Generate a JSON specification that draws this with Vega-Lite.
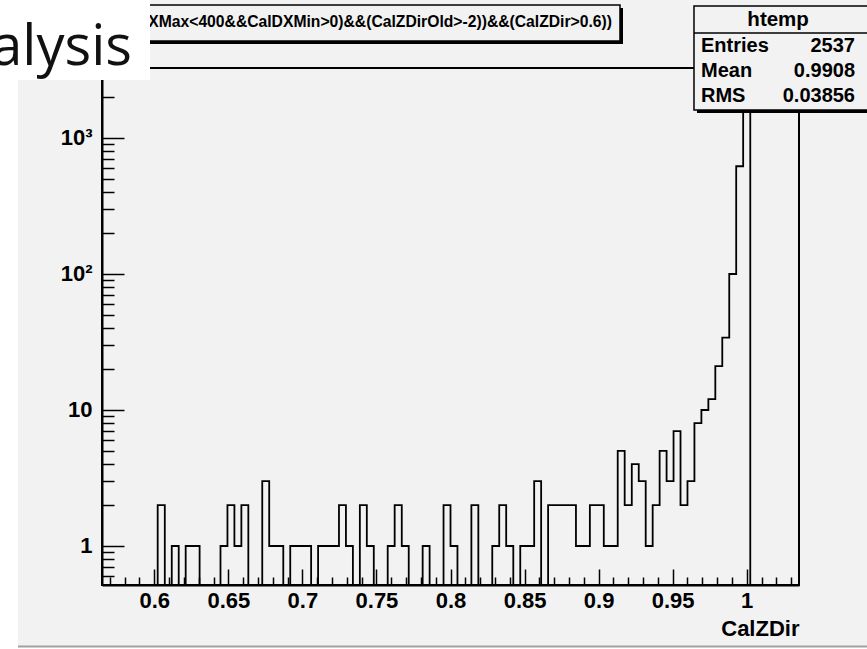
{
  "$schema": "https://vega.github.io/schema/vega-lite/v6.json",
  "width": 697,
  "height": 517,
  "autosize": "none",
  "padding": {"left": 102, "top": 68, "right": 68, "bottom": 64},
  "background": "#f2f2f2",
  "config": {
    "font": "Liberation Sans",
    "view": {"fill": "#f2f2f2", "stroke": "#000000", "strokeWidth": 2}
  },
  "layer": [
    {
      "data": {
        "values": [
          {"CalZDir": 0.5647, "n": 0}, {"CalZDir": 0.5694, "n": 0}, {"CalZDir": 0.5741, "n": 0},
          {"CalZDir": 0.5788, "n": 0}, {"CalZDir": 0.5835, "n": 0}, {"CalZDir": 0.5882, "n": 0},
          {"CalZDir": 0.5929, "n": 0}, {"CalZDir": 0.5976, "n": 0}, {"CalZDir": 0.6023, "n": 2},
          {"CalZDir": 0.6071, "n": 0}, {"CalZDir": 0.6118, "n": 1}, {"CalZDir": 0.6165, "n": 0},
          {"CalZDir": 0.6212, "n": 1}, {"CalZDir": 0.6259, "n": 1}, {"CalZDir": 0.6306, "n": 0},
          {"CalZDir": 0.6353, "n": 0}, {"CalZDir": 0.64, "n": 0}, {"CalZDir": 0.6447, "n": 1},
          {"CalZDir": 0.6494, "n": 2}, {"CalZDir": 0.6541, "n": 1}, {"CalZDir": 0.6588, "n": 2},
          {"CalZDir": 0.6635, "n": 0}, {"CalZDir": 0.6682, "n": 0}, {"CalZDir": 0.6729, "n": 3},
          {"CalZDir": 0.6776, "n": 1}, {"CalZDir": 0.6823, "n": 1}, {"CalZDir": 0.6871, "n": 0},
          {"CalZDir": 0.6918, "n": 1}, {"CalZDir": 0.6965, "n": 1}, {"CalZDir": 0.7012, "n": 1},
          {"CalZDir": 0.7059, "n": 0}, {"CalZDir": 0.7106, "n": 1}, {"CalZDir": 0.7153, "n": 1},
          {"CalZDir": 0.72, "n": 1}, {"CalZDir": 0.7247, "n": 2}, {"CalZDir": 0.7294, "n": 1},
          {"CalZDir": 0.7341, "n": 0}, {"CalZDir": 0.7388, "n": 2}, {"CalZDir": 0.7435, "n": 1},
          {"CalZDir": 0.7482, "n": 0}, {"CalZDir": 0.7529, "n": 0}, {"CalZDir": 0.7576, "n": 1},
          {"CalZDir": 0.7623, "n": 2}, {"CalZDir": 0.7671, "n": 1}, {"CalZDir": 0.7718, "n": 0},
          {"CalZDir": 0.7765, "n": 0}, {"CalZDir": 0.7812, "n": 1}, {"CalZDir": 0.7859, "n": 0},
          {"CalZDir": 0.7906, "n": 0}, {"CalZDir": 0.7953, "n": 2}, {"CalZDir": 0.8, "n": 1},
          {"CalZDir": 0.8047, "n": 0}, {"CalZDir": 0.8094, "n": 0}, {"CalZDir": 0.8141, "n": 2},
          {"CalZDir": 0.8188, "n": 0}, {"CalZDir": 0.8235, "n": 0}, {"CalZDir": 0.8282, "n": 1},
          {"CalZDir": 0.8329, "n": 2}, {"CalZDir": 0.8376, "n": 1}, {"CalZDir": 0.8424, "n": 0},
          {"CalZDir": 0.8471, "n": 1}, {"CalZDir": 0.8518, "n": 1}, {"CalZDir": 0.8565, "n": 3},
          {"CalZDir": 0.8612, "n": 0}, {"CalZDir": 0.8659, "n": 2}, {"CalZDir": 0.8706, "n": 2},
          {"CalZDir": 0.8753, "n": 2}, {"CalZDir": 0.88, "n": 2}, {"CalZDir": 0.8847, "n": 1},
          {"CalZDir": 0.8894, "n": 1}, {"CalZDir": 0.8941, "n": 2}, {"CalZDir": 0.8988, "n": 2},
          {"CalZDir": 0.9035, "n": 1}, {"CalZDir": 0.9082, "n": 1}, {"CalZDir": 0.9129, "n": 5},
          {"CalZDir": 0.9176, "n": 2}, {"CalZDir": 0.9224, "n": 4}, {"CalZDir": 0.9271, "n": 3},
          {"CalZDir": 0.9318, "n": 1}, {"CalZDir": 0.9365, "n": 2}, {"CalZDir": 0.9412, "n": 5},
          {"CalZDir": 0.9459, "n": 3}, {"CalZDir": 0.9506, "n": 7}, {"CalZDir": 0.9553, "n": 2},
          {"CalZDir": 0.96, "n": 3}, {"CalZDir": 0.9647, "n": 8}, {"CalZDir": 0.9694, "n": 10},
          {"CalZDir": 0.9741, "n": 12}, {"CalZDir": 0.9788, "n": 21}, {"CalZDir": 0.9835, "n": 34},
          {"CalZDir": 0.9882, "n": 100}, {"CalZDir": 0.9929, "n": 620}, {"CalZDir": 0.9976, "n": 1632},
          {"CalZDir": 1.0024, "n": 0}, {"CalZDir": 1.0071, "n": 0}, {"CalZDir": 1.0118, "n": 0},
          {"CalZDir": 1.0165, "n": 0}, {"CalZDir": 1.0212, "n": 0}, {"CalZDir": 1.0259, "n": 0},
          {"CalZDir": 1.0306, "n": 0}, {"CalZDir": 1.0353, "n": 0}
        ]
      },
      "layer": [
        {
          "mark": {"type": "line", "interpolate": "step-after", "color": "#000000", "strokeWidth": 1.8},
          "encoding": {
            "x": {
              "field": "CalZDir", "type": "quantitative",
              "scale": {"domain": [0.5647, 1.0353], "nice": false, "zero": false},
              "axis": {
                "orient": "bottom",
                "values": [0.6, 0.65, 0.7, 0.75, 0.8, 0.85, 0.9, 0.95, 1],
                "format": "~g",
                "grid": false,
                "domainColor": "#000000", "domainWidth": 2,
                "tickSize": -16, "tickWidth": 1.5, "tickColor": "#000000",
                "labelFont": "Liberation Sans", "labelFontWeight": "bold", "labelFontSize": 22,
                "labelColor": "#000000", "labelPadding": 21, "labelFlush": false, "labelOverlap": false,
                "title": "CalZDir",
                "titleFont": "Liberation Sans", "titleFontWeight": "bold", "titleFontSize": 22,
                "titleColor": "#000000", "titleAlign": "right", "titleAnchor": "end",
                "titleBaseline": "middle", "titleX": 697, "titleY": 43
              }
            },
            "y": {
              "field": "n", "type": "quantitative",
              "scale": {"type": "log", "domain": [0.5166, 3271], "nice": false, "clamp": true},
              "axis": {
                "orient": "left",
                "values": [1, 10, 100, 1000],
                "labelExpr": "datum.value >= 1000 ? '10³' : datum.value >= 100 ? '10²' : datum.value >= 10 ? '10' : '1'",
                "grid": false,
                "domainColor": "#000000", "domainWidth": 2,
                "tickSize": -22, "tickWidth": 1.5, "tickColor": "#000000",
                "labelFont": "Liberation Sans", "labelFontWeight": "bold", "labelFontSize": 22,
                "labelColor": "#000000", "labelPadding": 32, "labelFlush": false, "labelOverlap": false,
                "title": null
              }
            }
          }
        },
        {
          "mark": {"type": "line", "interpolate": "step-after", "opacity": 0},
          "encoding": {
            "x": {
              "field": "CalZDir", "type": "quantitative",
              "scale": {"domain": [0.5647, 1.0353], "nice": false, "zero": false},
              "axis": {
                "orient": "bottom",
                "values": [0.57, 0.58, 0.59, 0.61, 0.62, 0.63, 0.64, 0.66, 0.67, 0.68, 0.69, 0.71, 0.72, 0.73, 0.74, 0.76, 0.77, 0.78, 0.79, 0.81, 0.82, 0.83, 0.84, 0.86, 0.87, 0.88, 0.89, 0.91, 0.92, 0.93, 0.94, 0.96, 0.97, 0.98, 0.99, 1.01, 1.02, 1.03],
                "grid": false, "domain": false, "labels": false, "title": null,
                "tickSize": -8, "tickWidth": 1.5, "tickColor": "#000000"
              }
            },
            "y": {
              "field": "n", "type": "quantitative",
              "scale": {"type": "log", "domain": [0.5166, 3271], "nice": false, "clamp": true},
              "axis": {
                "orient": "left",
                "values": [0.6, 0.7, 0.8, 0.9, 2, 3, 4, 5, 6, 7, 8, 9, 20, 30, 40, 50, 60, 70, 80, 90, 200, 300, 400, 500, 600, 700, 800, 900, 2000, 3000],
                "grid": false, "domain": false, "labels": false, "title": null,
                "tickSize": -12, "tickWidth": 1.5, "tickColor": "#000000"
              }
            }
          }
        }
      ],
      "resolve": {"axis": {"x": "independent", "y": "independent"}}
    },
    {
      "data": {"values": [{}]},
      "layer": [
        {
          "mark": {"type": "rect", "color": "#000000"},
          "encoding": {
            "x": {"datum": 0.56538, "type": "quantitative", "axis": null},
            "x2": {"datum": 0.91647},
            "y": {"datum": 9034, "type": "quantitative", "axis": null, "scale": {"type": "log", "domain": [0.5166, 3271], "nice": false}},
            "y2": {"datum": 4911}
          }
        },
        {
          "mark": {"type": "rect", "fill": "#f2f2f2", "stroke": "#000000", "strokeWidth": 1.5},
          "encoding": {
            "x": {"datum": 0.56335, "type": "quantitative", "axis": null},
            "x2": {"datum": 0.91444},
            "y": {"datum": 9505, "type": "quantitative", "axis": null, "scale": {"type": "log", "domain": [0.5166, 3271], "nice": false}},
            "y2": {"datum": 5167}
          }
        },
        {
          "mark": {"type": "text", "text": "((CalDXMax<400&&CalDXMin>0)&&(CalZDirOld>-2))&&(CalZDir>0.6))", "align": "right", "baseline": "middle", "font": "Liberation Sans", "fontWeight": "bold", "fontSize": 15.7, "color": "#000000"},
          "encoding": {
            "x": {"datum": 0.90904, "type": "quantitative", "axis": null},
            "y": {"datum": 7129, "type": "quantitative", "axis": null, "scale": {"type": "log", "domain": [0.5166, 3271], "nice": false}}
          }
        },
        {
          "mark": {"type": "rect", "fill": "#ffffff", "stroke": "#a0a0a0", "strokeWidth": 2},
          "encoding": {
            "x": {"datum": 0.4925, "type": "quantitative", "axis": null},
            "x2": {"datum": 1.1541},
            "y": {"datum": 0.18239, "type": "quantitative", "axis": null, "scale": {"type": "log", "domain": [0.5166, 3271], "nice": false}},
            "y2": {"datum": 0.15794}
          }
        },
        {
          "mark": {"type": "rect", "fill": "#ffffff"},
          "encoding": {
            "x": {"datum": 0.4925, "type": "quantitative", "axis": null},
            "x2": {"datum": 0.50799},
            "y": {"datum": 11258, "type": "quantitative", "axis": null, "scale": {"type": "log", "domain": [0.5166, 3271], "nice": false}},
            "y2": {"datum": 0.15794}
          }
        },
        {
          "mark": {"type": "rect", "fill": "#ffffff"},
          "encoding": {
            "x": {"datum": 0.4925, "type": "quantitative", "axis": null},
            "x2": {"datum": 0.59711},
            "y": {"datum": 11258, "type": "quantitative", "axis": null, "scale": {"type": "log", "domain": [0.5166, 3271], "nice": false}},
            "y2": {"datum": 2670}
          }
        },
        {
          "mark": {"type": "text", "text": "alysis", "align": "right", "baseline": "alphabetic", "font": "Open Sans", "fontSize": 56, "color": "#111111"},
          "encoding": {
            "x": {"datum": 0.58496, "type": "quantitative", "axis": null},
            "y": {"datum": 3442, "type": "quantitative", "axis": null, "scale": {"type": "log", "domain": [0.5166, 3271], "nice": false}}
          }
        },
        {
          "mark": {"type": "rect", "color": "#000000"},
          "encoding": {
            "x": {"datum": 0.96643, "type": "quantitative", "axis": null},
            "x2": {"datum": 1.1541},
            "y": {"datum": 8882, "type": "quantitative", "axis": null, "scale": {"type": "log", "domain": [0.5166, 3271], "nice": false}},
            "y2": {"datum": 1527}
          }
        },
        {
          "mark": {"type": "rect", "fill": "#f2f2f2", "stroke": "#000000", "strokeWidth": 1.5},
          "encoding": {
            "x": {"datum": 0.9644, "type": "quantitative", "axis": null},
            "x2": {"datum": 1.1541},
            "y": {"datum": 9346, "type": "quantitative", "axis": null, "scale": {"type": "log", "domain": [0.5166, 3271], "nice": false}},
            "y2": {"datum": 1607}
          }
        },
        {
          "mark": {"type": "rule", "color": "#000000", "strokeWidth": 1.5},
          "encoding": {
            "x": {"datum": 0.9644, "type": "quantitative", "axis": null},
            "x2": {"datum": 1.1541},
            "y": {"datum": 5916, "type": "quantitative", "axis": null, "scale": {"type": "log", "domain": [0.5166, 3271], "nice": false}}
          }
        },
        {
          "mark": {"type": "text", "text": "htemp", "align": "center", "baseline": "middle", "font": "Liberation Sans", "fontWeight": "bold", "fontSize": 20.5, "color": "#000000"},
          "encoding": {
            "x": {"datum": 1.0212, "type": "quantitative", "axis": null},
            "y": {"datum": 7375, "type": "quantitative", "axis": null, "scale": {"type": "log", "domain": [0.5166, 3271], "nice": false}}
          }
        },
        {
          "mark": {"type": "text", "text": "Entries", "align": "left", "baseline": "middle", "font": "Liberation Sans", "fontWeight": "bold", "fontSize": 20, "color": "#000000"},
          "encoding": {
            "x": {"datum": 0.96913, "type": "quantitative", "axis": null},
            "y": {"datum": 4747, "type": "quantitative", "axis": null, "scale": {"type": "log", "domain": [0.5166, 3271], "nice": false}}
          }
        },
        {
          "mark": {"type": "text", "text": "2537", "align": "right", "baseline": "middle", "font": "Liberation Sans", "fontWeight": "bold", "fontSize": 20, "color": "#000000"},
          "encoding": {
            "x": {"datum": 1.07311, "type": "quantitative", "axis": null},
            "y": {"datum": 4747, "type": "quantitative", "axis": null, "scale": {"type": "log", "domain": [0.5166, 3271], "nice": false}}
          }
        },
        {
          "mark": {"type": "text", "text": "Mean", "align": "left", "baseline": "middle", "font": "Liberation Sans", "fontWeight": "bold", "fontSize": 20, "color": "#000000"},
          "encoding": {
            "x": {"datum": 0.96913, "type": "quantitative", "axis": null},
            "y": {"datum": 3109, "type": "quantitative", "axis": null, "scale": {"type": "log", "domain": [0.5166, 3271], "nice": false}}
          }
        },
        {
          "mark": {"type": "text", "text": "0.9908", "align": "right", "baseline": "middle", "font": "Liberation Sans", "fontWeight": "bold", "fontSize": 20, "color": "#000000"},
          "encoding": {
            "x": {"datum": 1.07311, "type": "quantitative", "axis": null},
            "y": {"datum": 3109, "type": "quantitative", "axis": null, "scale": {"type": "log", "domain": [0.5166, 3271], "nice": false}}
          }
        },
        {
          "mark": {"type": "text", "text": "RMS", "align": "left", "baseline": "middle", "font": "Liberation Sans", "fontWeight": "bold", "fontSize": 20, "color": "#000000"},
          "encoding": {
            "x": {"datum": 0.96913, "type": "quantitative", "axis": null},
            "y": {"datum": 2036, "type": "quantitative", "axis": null, "scale": {"type": "log", "domain": [0.5166, 3271], "nice": false}}
          }
        },
        {
          "mark": {"type": "text", "text": "0.03856", "align": "right", "baseline": "middle", "font": "Liberation Sans", "fontWeight": "bold", "fontSize": 20, "color": "#000000"},
          "encoding": {
            "x": {"datum": 1.07311, "type": "quantitative", "axis": null},
            "y": {"datum": 2036, "type": "quantitative", "axis": null, "scale": {"type": "log", "domain": [0.5166, 3271], "nice": false}}
          }
        }
      ]
    }
  ],
  "resolve": {
    "scale": {"y": "independent"},
    "axis": {"x": "independent", "y": "independent"}
  }
}
